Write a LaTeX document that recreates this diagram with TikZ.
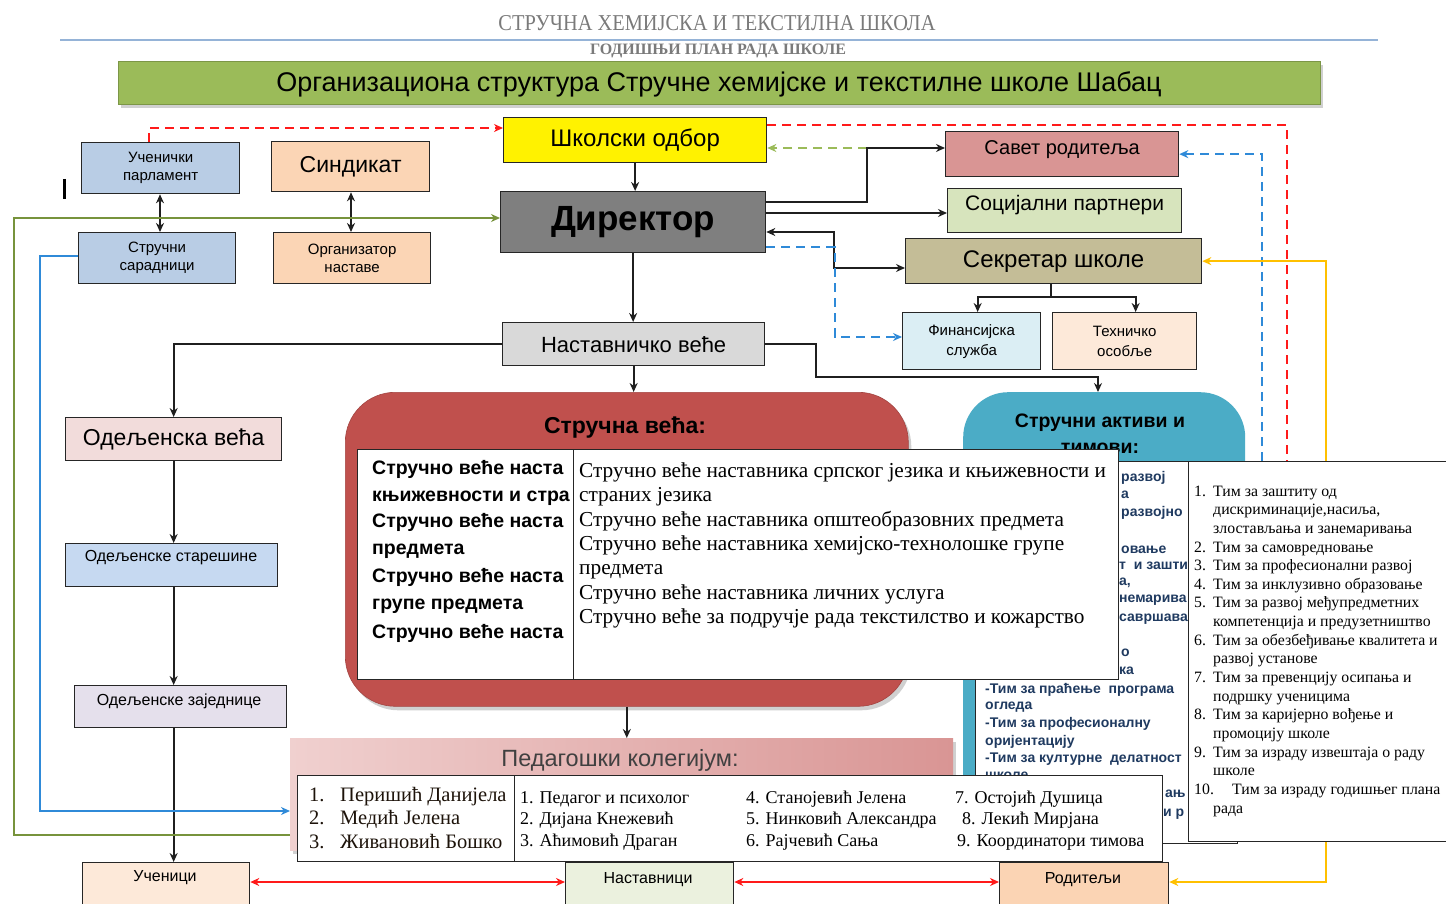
\documentclass[tikz,border=0pt]{standalone}
\usepackage{fontspec}
\setmainfont{Liberation Serif}
\setsansfont{Liberation Sans}
\usetikzlibrary{arrows.meta,calc,shadows}
\newcommand\fsz[2]{\fontsize{#1pt}{#2pt}\selectfont}
\newcommand\mkbox[7][]{\node[box,#1,minimum width={#4-#2},minimum height={#5-#3},anchor=north west] (#6) at (#2,#3) {#7};}
\definecolor{cBan}{HTML}{9BBB59}
\definecolor{cUP}{HTML}{B9CDE5}
\definecolor{cPea}{HTML}{FBD5B5}
\definecolor{cDir}{HTML}{7F7F7F}
\definecolor{cSav}{HTML}{D99594}
\definecolor{cSoc}{HTML}{D7E4BD}
\definecolor{cSek}{HTML}{C4BD97}
\definecolor{cFin}{HTML}{DBEEF4}
\definecolor{cTeh}{HTML}{FDE9D9}
\definecolor{cNV}{HTML}{D9D9D9}
\definecolor{cOV}{HTML}{F2DCDB}
\definecolor{cOS}{HTML}{C6D9F1}
\definecolor{cOZ}{HTML}{E5E0EC}
\definecolor{cNas}{HTML}{EBF1DE}
\definecolor{cRod}{HTML}{FBD4B4}
\definecolor{cSV}{HTML}{C0504D}
\definecolor{cAkt}{HTML}{4BACC6}
\definecolor{cPK1}{HTML}{F0D0CF}
\definecolor{cPK2}{HTML}{D99594}
\definecolor{cRed}{HTML}{FF1A1A}
\definecolor{cBlueD}{HTML}{2F8AD8}
\definecolor{cGreenD}{HTML}{9BBB59}
\definecolor{cGreenL}{HTML}{77933C}
\definecolor{cBlueL}{HTML}{2F8AD8}
\definecolor{cYel}{HTML}{FFC000}
\definecolor{cHead}{HTML}{7A7A7A}
\definecolor{cLine}{HTML}{95B3D7}
\definecolor{cNavy}{HTML}{1F3A60}
\begin{document}
\begin{tikzpicture}[x=1pt,y=-1pt,
  >={Stealth[length=9pt,width=8pt]},
  box/.style={draw=black!85,line width=1.3pt,inner sep=0pt,align=center,font=\sffamily},
  lbl/.style={inner sep=0pt,font=\sffamily\fsz{16}{16}},
  txt/.style={inner sep=0pt,anchor=base west},
  svl/.style={txt,font=\sffamily\bfseries\fsz{19.5}{19.5}},
  svr/.style={txt,font=\rmfamily\fsz{21.3}{21.3}},
  tim/.style={txt,font=\rmfamily\fsz{15.8}{15.8}},
  frag/.style={txt,font=\sffamily\bfseries\fsz{14}{14},text=cNavy},
  pkl/.style={txt,font=\rmfamily\fsz{20.5}{20.5},text=black!85!brown},
  pkr/.style={txt,font=\rmfamily\fsz{18}{18}},
  arr/.style={draw=black!88,line width=1.7pt,->},
  dbl/.style={draw=black!88,line width=1.7pt,<->},
  conn/.style={draw=black!88,line width=1.7pt},
  reddash/.style={draw=cRed,line width=2pt,dash pattern=on 9pt off 6pt},
  bluedash/.style={draw=cBlueD,line width=2pt,dash pattern=on 9pt off 6pt},
  greendash/.style={draw=cGreenD,line width=2pt,dash pattern=on 9pt off 6pt},
  greenline/.style={draw=cGreenL,line width=1.8pt},
  blueline/.style={draw=cBlueL,line width=1.8pt},
  yelline/.style={draw=cYel,line width=1.8pt},
  redline/.style={draw=cRed,line width=2pt},
  shad/.style={drop shadow={shadow xshift=3pt,shadow yshift=-4pt,opacity=0.3,fill=black!60}},
]
\clip (0,0) rectangle (1446,904);
\fill[white] (0,0) rectangle (1446,904);

% header
\node[inner sep=0pt,text=cHead,font=\rmfamily] (t1) at (717,23) {\resizebox{437pt}{15pt}{СТРУЧНА ХЕМИЈСКА И ТЕКСТИЛНА ШКОЛА}};
\draw[cLine,line width=1.3pt] (60,40) -- (1378,40);
\node[inner sep=0pt,text=cHead,font=\rmfamily\bfseries] (t2) at (718,51) {\resizebox{256pt}{10.5pt}{ГОДИШЊИ ПЛАН РАДА ШКОЛЕ}};
\node[fill=cBan,draw=cBan!80!black,line width=0.6pt,minimum width=1202,minimum height=43,anchor=north west,shad,inner sep=0pt] (ban) at (118,61) {};
\node[inner sep=0pt,font=\sffamily\fsz{27}{27}] (bant) at (719,84) {Организациона структура Стручне хемијске и текстилне школе Шабац};

% stray mark
\draw[line width=3pt] (64,179) -- (64,199);

% boxes
\mkbox[fill=cUP,font=\sffamily\fsz{15}{18}]{81}{142}{239}{193}{up}{Ученички\\парламент}
\mkbox[fill=cPea,font=\sffamily\fsz{23}{23}]{271}{141}{429}{191}{sind}{Синдикат}
\mkbox[fill=cUP,font=\sffamily\fsz{15}{18}]{78}{232}{235}{283}{ss}{Стручни\\сарадници}
\mkbox[fill=cPea,font=\sffamily\fsz{15}{18}]{273}{232}{430}{283}{org}{Организатор\\наставе}
\mkbox[fill=yellow,font=\sffamily\fsz{24}{24}]{503}{117}{766}{162}{so}{Школски одбор}
\mkbox[fill=cDir,font=\sffamily\bfseries\fsz{35}{35}]{500}{191}{765}{252}{dir}{Директор}
\mkbox[fill=cSav,font=\sffamily\fsz{20}{20},text height=14.5pt,text depth=14pt]{945}{131}{1178}{176}{savet}{Савет родитеља}
\mkbox[fill=cSoc,font=\sffamily\fsz{21}{21},text height=15pt,text depth=16pt]{947}{188}{1181}{232}{soc}{Социјални партнери}
\mkbox[fill=cSek,font=\sffamily\fsz{24}{24}]{905}{238}{1201}{283}{sek}{Секретар школе}
\mkbox[fill=cFin,font=\sffamily\fsz{15}{20}]{902}{312}{1040}{369}{fin}{Финансијска\\служба}
\mkbox[fill=cTeh,font=\sffamily\fsz{15}{20}]{1052}{312}{1196}{369}{teh}{Техничко\\особље}
\mkbox[fill=cNV,font=\sffamily\fsz{22}{22}]{502}{322}{764}{365}{nv}{Наставничко веће}
\mkbox[fill=cOV,font=\sffamily\fsz{23}{23}]{65}{417}{281}{460}{ov}{Одељенска већа}
\mkbox[fill=cOS]{65}{543}{277}{586}{os}{}
\node[lbl] (ost) at (171,558) {Одељенске старешине};
\mkbox[fill=cOZ]{74}{685}{286}{727}{oz}{}
\node[lbl] (ozt) at (179,701) {Одељенске заједнице};
\mkbox[fill=cTeh]{82}{862}{249}{930}{uc}{}
\node[lbl] (uct) at (165,878) {Ученици};
\mkbox[fill=cNas]{565}{862}{733}{930}{nas}{}
\node[lbl] (nast) at (648,880) {Наставници};
\mkbox[fill=cRod]{999}{862}{1168}{930}{rod}{}
\node[lbl] (rodt) at (1083,880) {Родитељи};

% Strucni aktivi i timovi
\node[fill=cAkt,rounded corners=45pt,minimum width=282,minimum height=451,anchor=north west,inner sep=0pt] (act) at (963,392) {};
\node[inner sep=0pt,font=\sffamily\bfseries\fsz{19.5}{19.5}] (actt) at (1100,423) {Стручни активи и};
\node[inner sep=0pt,anchor=base,font=\sffamily\bfseries\fsz{19.5}{19.5}] (actt2) at (1100,453) {тимови:};
\mkbox[fill=white,line width=1pt]{975}{461}{1237}{843}{acti}{}
\begin{scope}
\clip (976,462) rectangle (1188,842);
\node[frag] (f1) at (1121,481) {развој};
\node[frag] (f2) at (1121,498) {а};
\node[frag] (f3) at (1121,516) {развојно};
\node[frag] (f4) at (1121,553) {овање};
\node[frag] (f5) at (1119,569) {т\ \ и заштит};
\node[frag] (f6) at (1119,585) {а,};
\node[frag] (f7) at (1119,602) {немарива};
\node[frag] (f8) at (1119,621) {савршава};
\node[frag] (f9) at (1121,656) {о};
\node[frag] (f10) at (1119,674) {ка};
\node[frag] (f11) at (985,693) {-Тим за праћење\ \ програма};
\node[frag] (f12) at (985,709) {огледа};
\node[frag] (f13) at (985,727) {-Тим за професионалну};
\node[frag] (f14) at (985,745) {оријентацију};
\node[frag] (f15) at (985,762) {-Тим за културне\ \ делатност};
\node[frag] (f16) at (985,779) {школе};
\node[frag] (f17) at (1165,797) {ањ};
\node[frag] (f18) at (1163,816) {и р};
\end{scope}

% Strucna veca
\node[fill=cSV,draw=cSV!85!black,line width=0.6pt,rounded corners=50pt,minimum width=563,minimum height=314,anchor=north west,inner sep=0pt,shad] (sv) at (345,392) {};
\node[inner sep=0pt,font=\sffamily\bfseries\fsz{23}{23}] (svt) at (625,428) {Стручна већа:};
\mkbox[fill=white]{357}{449}{575}{679}{sv1}{}
\begin{scope}
\clip (358,450) rectangle (573,678);
\node[svl] (a1) at (372,474) {Стручно веће наста};
\node[svl] (a2) at (372,501) {књижевности и стра};
\node[svl] (a3) at (372,527) {Стручно веће наста};
\node[svl] (a4) at (372,554) {предмета};
\node[svl] (a5) at (372,582) {Стручно веће наста};
\node[svl] (a6) at (372,609) {групе предмета};
\node[svl] (a7) at (372,638) {Стручно веће наста};
\end{scope}
\mkbox[fill=white]{573}{449}{1118}{679}{sv2}{}
\node[svr] (b1t) at (579,477) {Стручно веће наставника српског језика и књижевности и};
\node[svr] (b2t) at (579,501.5) {страних језика};
\node[svr] (b3t) at (579,526) {Стручно веће наставника општеобразовних предмета};
\node[svr] (b4t) at (579,550.3) {Стручно веће наставника хемијско-технолошке групе};
\node[svr] (b5t) at (579,574.8) {предмета};
\node[svr] (b6t) at (579,599.2) {Стручно веће наставника личних услуга};
\node[svr] (b7t) at (579,623.7) {Стручно веће за подручје рада текстилство и кожарство};

% Pedagoski kolegijum
\node[left color=cPK1,right color=cPK2,minimum width=663,minimum height=112,anchor=north west,inner sep=0pt,shad] (pk) at (290,738) {};
\node[inner sep=0pt,font=\sffamily\fsz{23.5}{23.5},text=black!75] (pkt) at (620,760) {Педагошки колегијум:};
\mkbox[fill=white]{297}{775}{515}{861}{pk1}{}
\node[pkl] (p1n) at (309,801) {1.};
\node[pkl] (p1) at (340,801) {Перишић Данијела};
\node[pkl] (p2n) at (309,824) {2.};
\node[pkl] (p2) at (340,824) {Медић Јелена};
\node[pkl] (p3n) at (309,848) {3.};
\node[pkl] (p3) at (340,848) {Живановић Бошко};
\mkbox[fill=white]{514}{775}{1162}{861}{pk2}{}
\node[pkr] (q1) at (520,803) {1. Педагог и психолог};
\node[pkr] (q2) at (520,824) {2. Дијана Кнежевић};
\node[pkr] (q3) at (520,846) {3. Аћимовић Драган};
\node[pkr] (q4) at (746,803) {4. Станојевић Јелена};
\node[pkr] (q5) at (746,824) {5. Нинковић Александра};
\node[pkr] (q6) at (746,846) {6. Рајчевић Сања};
\node[pkr] (q7) at (955,803) {7. Остојић Душица};
\node[pkr] (q8) at (962,824) {8. Лекић Мирјана};
\node[pkr] (q9) at (957,846) {9. Координатори тимова};

% connectors
\coordinate (rd) at (1287,461);
\coordinate (bd) at (1262,461);
\coordinate (jsav) at (867,148);
\coordinate (jsek) at (834,268);
\coordinate (jfin) at (835,337);
\coordinate (ja) at (816,377);
\coordinate (g1) at (14,835);
\coordinate (g2) at (14,218);
\coordinate (bl1) at (40,256);
\coordinate (bl2) at (40,811);
\coordinate (y2) at (1326,882);
\coordinate (js) at ($(sek.south)+(-3,13)$);

\draw[reddash,->] ($(up.north west)+(68,0)$) |- ($(so.north west)+(0,11)$);
\draw[reddash] ($(so.north east)+(0,8)$) -| (rd);
\draw[greendash,->] (jsav) -- (jsav -| so.east);
\draw[arr] ($(dir.north east)+(0,11)$) -| (jsav) -- (jsav -| savet.west);
\draw[arr] ($(dir.north east)+(0,22)$) coordinate (d2) -- (d2 -| soc.west);
\draw[dbl] ($(dir.north east)+(0,41)$) -| (jsek) -- (jsek -| sek.west);
\draw[bluedash,->] ($(dir.north east)+(0,56)$) -| (jfin) -- (jfin -| fin.west);
\draw[arr] (so.south) -- (so.south |- dir.north);
\draw[arr] (dir.south) -- (dir.south |- nv.north);
\draw[arr] (nv.south) -- (nv.south |- sv.north);
\draw[arr] (sv.south) -- (sv.south |- pk.north);
\draw[arr] (nv.west) -| (ov.north);
\draw[arr] (nv.east) -| (ja) -| ($(act.north west)+(135,0)$);
\draw[conn] ($(sek.south)+(-3,0)$) -- (js);
\draw[arr] (js) -| ($(fin.north)+(6,0)$);
\draw[arr] (js) -| ($(teh.north)+(11,0)$);
\draw[arr] (ov.south) -- (ov.south |- os.north);
\draw[arr] (os.south -| ov.south) -- (ov.south |- oz.north);
\draw[arr] (oz.south -| ov.south) -- (ov.south |- uc.north);
\draw[dbl] ($(up.south west)+(79,0)$) -- ($(ss.north west)+(82,0)$);
\draw[dbl] ($(sind.south west)+(80,0)$) -- ($(org.north west)+(78,0)$);
\draw[greenline,->] (g1 -| pk.west) -- (g1) -- (g2) -- (g2 -| dir.west);
\draw[blueline,->] (bl1 -| ss.west) -- (bl1) -- (bl2) -- (bl2 -| pk.west);
\draw[bluedash,->] (bd) |- (savet.east);
\draw[yelline,<->] (sek.east) -| (y2) -- (y2 -| rod.east);
\draw[redline,<->] ($(uc.north east)+(0,20)$) -- ($(nas.north west)+(0,20)$);
\draw[redline,<->] ($(nas.north east)+(0,20)$) -- ($(rod.north west)+(0,20)$);

% Tim list box
\mkbox[fill=white]{1188}{461}{1470}{841}{tim}{}
\node[tim] (n1) at (1194,496) {1.};
\node[tim] (m1) at (1213,496) {Тим за заштиту од};
\node[tim] (m1b) at (1213,514.6) {дискриминације,насиља,};
\node[tim] (m1c) at (1213,533.3) {злостављања и занемаривања};
\node[tim] (n2) at (1194,552) {2.};
\node[tim] (m2) at (1213,552) {Тим за самовредновање};
\node[tim] (n3) at (1194,570.6) {3.};
\node[tim] (m3) at (1213,570.6) {Тим за професионални развој};
\node[tim] (n4) at (1194,589.2) {4.};
\node[tim] (m4) at (1213,589.2) {Тим за инклузивно образовање};
\node[tim] (n5) at (1194,607.9) {5.};
\node[tim] (m5) at (1213,607.9) {Тим за развој међупредметних};
\node[tim] (m5b) at (1213,626.5) {компетенција и предузетништво};
\node[tim] (n6) at (1194,645.2) {6.};
\node[tim] (m6) at (1213,645.2) {Тим за обезбеђивање квалитета и};
\node[tim] (m6b) at (1213,663.8) {развој установе};
\node[tim] (n7) at (1194,682.5) {7.};
\node[tim] (m7) at (1213,682.5) {Тим за превенцију осипања и};
\node[tim] (m7b) at (1213,701.1) {подршку ученицима};
\node[tim] (n8) at (1194,719.8) {8.};
\node[tim] (m8) at (1213,719.8) {Тим за каријерно вођење и};
\node[tim] (m8b) at (1213,738.4) {промоцију школе};
\node[tim] (n9) at (1194,757.1) {9.};
\node[tim] (m9) at (1213,757.1) {Тим за израду извештаја о раду};
\node[tim] (m9b) at (1213,775.7) {школе};
\node[tim] (n10) at (1194,794.4) {10.};
\node[tim] (m10) at (1232,794.4) {Тим за израду годишњег плана};
\node[tim] (m10b) at (1213,813) {рада};
\end{tikzpicture}
\end{document}
